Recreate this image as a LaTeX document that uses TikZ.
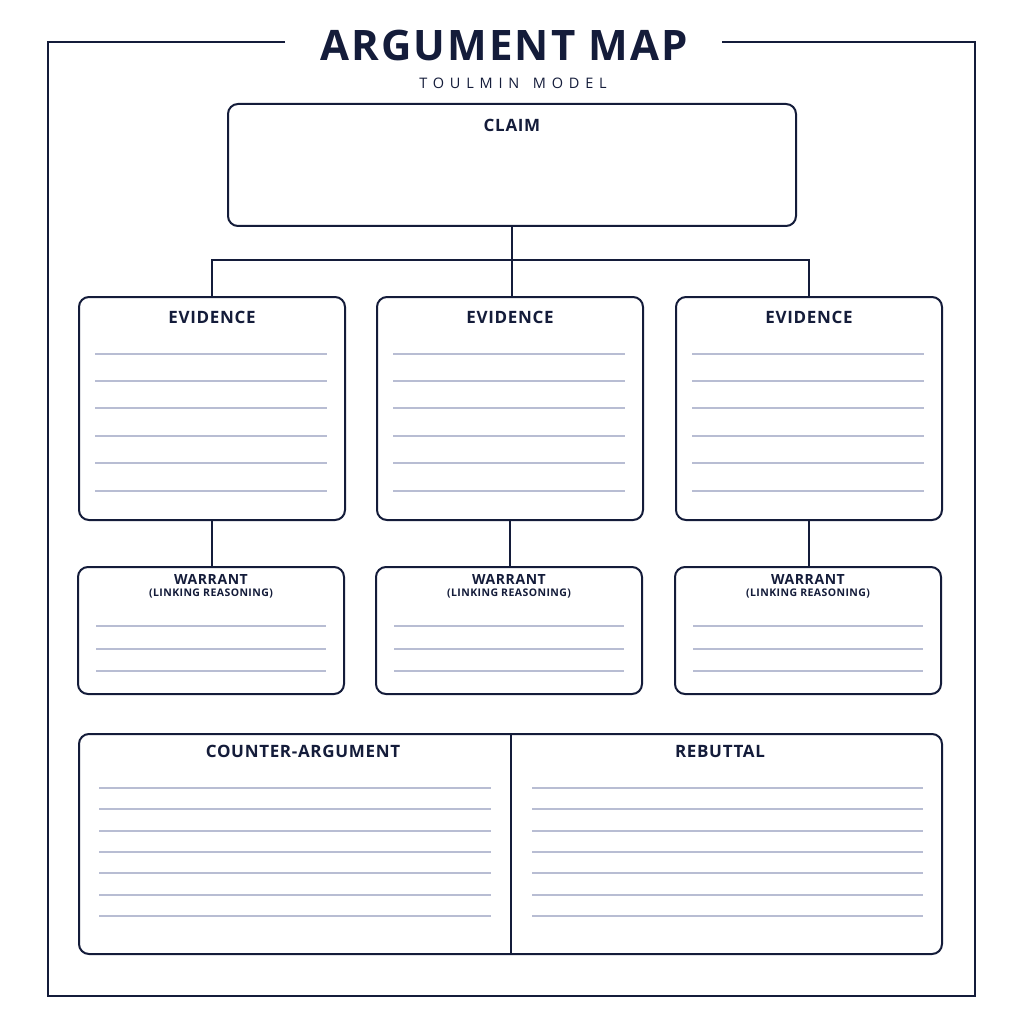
\documentclass[tikz,border=0pt]{standalone}
\usepackage{fontspec}
\setmainfont{Open Sans}
\newfontfamily\titlefont[LetterSpace=5]{Open Sans}
\newfontfamily\subfont[LetterSpace=40]{Open Sans}
\newfontfamily\headfont[LetterSpace=4]{Open Sans}
\definecolor{navy}{HTML}{141C3A}
\definecolor{rule}{HTML}{B8BDD3}
\begin{document}
\begin{tikzpicture}[x=1pt,y=-1pt,
  box/.style={draw=navy,line width=2pt,rounded corners=10pt,fill=white,inner sep=0pt,outer sep=0pt,anchor=north west},
  conn/.style={draw=navy,line width=2pt},
  head/.style={text=navy,font=\headfont\bfseries\fontsize{17}{19}\selectfont,inner sep=0pt},
  subhead/.style={text=navy,font=\headfont\bfseries\fontsize{14}{16}\selectfont,inner sep=0pt},
  tiny/.style={text=navy,font=\headfont\bfseries\fontsize{10.5}{12}\selectfont,inner sep=0pt},
  ruling/.style={draw=rule,line width=1.1pt}]
\useasboundingbox (0,0) rectangle (1024,1024);
\fill[white] (0,0) rectangle (1024,1024);
% frame
\coordinate (fl) at (285,42);
\coordinate (fr) at (722,42);
\draw[navy,line width=2pt] (fl) -- (48,42) -- (48,996) -- (975,996) -- (975,42) -- (fr);
% title
\node[text=navy,font=\titlefont\bfseries\fontsize{42}{46}\selectfont,inner sep=0pt] (title) at (504,46) {ARGUMENT MAP};
\node[text=navy,font=\subfont\fontsize{14.5}{16}\selectfont,inner sep=0pt] (subtitle) at (513,83) {TOULMIN\ \hspace{4pt}MODEL};
% claim
\node[box,minimum width=568pt,minimum height=122pt] (claim) at (228,104) {};
\node[head] (claimt) at (512,125) {CLAIM};
% evidence boxes
\foreach \i/\x in {1/79,2/377,3/676}{
  \node[box,minimum width=266pt,minimum height=223pt] (ev\i) at (\x,297) {};
  \node[head] (evt\i) at ([xshift=133pt]\x,317) {EVIDENCE};
  \foreach \y in {354,381,408,436,463,491}{
    \draw[ruling] ([xshift=16pt]\x,\y) -- ([xshift=248pt]\x,\y);
  }
  \node[box,minimum width=266pt,minimum height=127pt] (wa\i) at ([xshift=-1pt]\x,567) {};
  \node[subhead] (wat\i) at ([xshift=132pt]\x,579) {WARRANT};
  \node[tiny] (wal\i) at ([xshift=132pt]\x,594) {(LINKING REASONING)};
  \foreach \y in {626,649,671}{
    \draw[ruling] ([xshift=17pt]\x,\y) -- ([xshift=247pt]\x,\y);
  }
  \draw[conn] (ev\i.south) -- (ev\i.south |- wa\i.north);
}
% claim connectors
\coordinate (hub) at (claim.south |- 0,260);
\draw[conn] (claim.south) -- (hub);
\draw[conn] (ev1.north) |- (hub) -| (ev3.north);
\draw[conn] (hub) -- (hub |- ev2.north);
% bottom box
\node[box,minimum width=863pt,minimum height=220pt] (bottom) at (79,734) {};
\draw[conn] (bottom.north) -- (bottom.south);
\node[head] (cat) at (303,751) {COUNTER-ARGUMENT};
\node[head] (rbt) at (720,751) {REBUTTAL};
\foreach \y in {788,809,831,852,873,895,916}{
  \draw[ruling] (99,\y) -- (491,\y);
  \draw[ruling] (532,\y) -- (923,\y);
}
\end{tikzpicture}
\end{document}
